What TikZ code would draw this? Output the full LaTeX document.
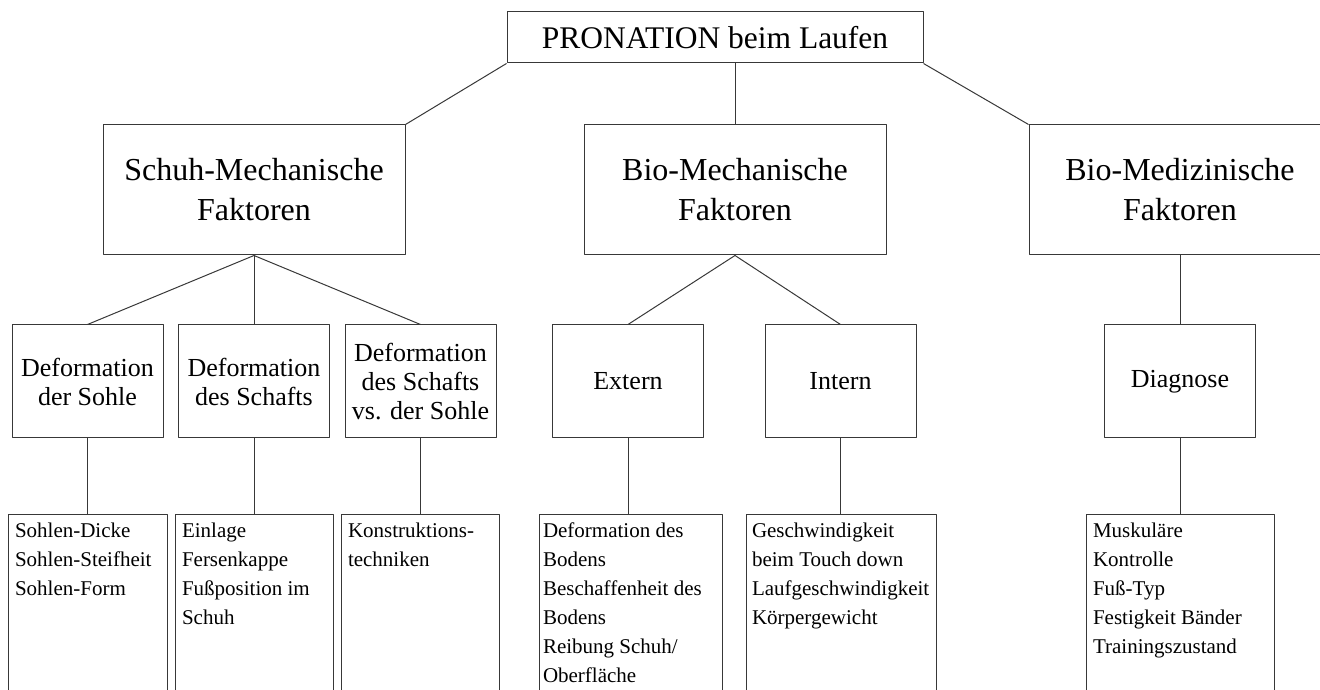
\documentclass[tikz,border=0pt]{standalone}
\usepackage{fontspec}
\setmainfont{Liberation Serif}
\usetikzlibrary{calc}

\begin{document}
\begin{tikzpicture}[line join=bevel,
  every node/.style={draw=black!78,line width=1bp,inner sep=0pt},
  lbox/.style={align=center,font=\fontsize{31.5bp}{40bp}\selectfont},
  mbox/.style={minimum width=151bp,minimum height=113bp,align=center,font=\fontsize{26bp}{29bp}\selectfont},
  listbox/.style={anchor=north,inner xsep=7bp,inner ysep=8bp,font=\fontsize{21bp}{29bp}\selectfont},
  conn/.style={draw=black!78,line width=1bp},
]
\useasboundingbox (0bp,0bp) rectangle (1320bp,690bp);
%%
\node (pron) at (715.0bp,652.5bp) [lbox,minimum width=416bp,minimum height=51bp] {PRONATION beim Laufen};
  \node (schuh_mech) at (254.0bp,500.0bp) [lbox,minimum width=302bp,minimum height=130bp,font=\fontsize{32bp}{40bp}\selectfont] {Schuh-Mechanische\\Faktoren};
  \node (bio_mech) at (735.0bp,500.0bp) [lbox,minimum width=302bp,minimum height=130bp,font=\fontsize{32bp}{40bp}\selectfont] {Bio-Mechanische\\Faktoren};
  \node (bio_med) at (1180.0bp,500.0bp) [lbox,minimum width=302bp,minimum height=130bp,font=\fontsize{32bp}{40bp}\selectfont] {Bio-Medizinische\\Faktoren};
  \node (def_sohle) at (87.5bp,308.5bp) [mbox] {Deformation\\der Sohle};
  \node (def_schaft) at (254.0bp,308.5bp) [mbox] {Deformation\\des Schafts};
  \node (def_schaft_sohle) at (420.5bp,308.5bp) [mbox] {Deformation\\des Schafts\\vs. der Sohle};
  \node (extern) at (628.0bp,308.5bp) [mbox] {Extern};
  \node (intern) at (840.5bp,308.5bp) [mbox] {Intern};
  \node (diagnose) at (1180.0bp,308.5bp) [mbox] {Diagnose};
  \node (list_sohle) at (87.5bp,176.0bp) [listbox] {\parbox[t][190bp][t]{145bp}{Sohlen-Dicke\\Sohlen-Steifheit\\Sohlen-Form}};
  \node (list_schaft) at (254.0bp,176.0bp) [listbox] {\parbox[t][190bp][t]{144bp}{Einlage\\Fersenkappe\\Fußposition im\\Schuh}};
  \node (list_konstr) at (420.0bp,176.0bp) [listbox] {\parbox[t][190bp][t]{144bp}{Konstruktions-\\techniken}};
  \node (list_extern) at (630.5bp,176.0bp) [listbox,inner xsep=4bp] {\parbox[t][190bp][t]{175bp}{Deformation des\\Bodens\\Beschaffenheit des\\Bodens\\Reibung Schuh/\\Oberfläche}};
  \node (list_intern) at (841.0bp,176.0bp) [listbox,inner xsep=6bp] {\parbox[t][190bp][t]{178bp}{Geschwindigkeit\\beim Touch down\\Laufgeschwindigkeit\\Körpergewicht}};
  \node (list_diagnose) at (1180.0bp,176.0bp) [listbox] {\parbox[t][190bp][t]{174bp}{Muskuläre\\Kontrolle\\Fuß-Typ\\Festigkeit Bänder\\Trainingszustand}};
  \draw [conn] (pron.south west) -- (schuh_mech.north east);
  \draw [conn] (bio_mech.north |- pron.south) -- (bio_mech.north);
  \draw [conn] (pron.south east) -- (bio_med.north west);
  \draw [conn] (schuh_mech.south) -- (def_sohle.north);
  \draw [conn] (schuh_mech.south) -- (def_schaft.north);
  \draw [conn] (schuh_mech.south) -- (def_schaft_sohle.north);
  \draw [conn] (bio_mech.south) -- (extern.north);
  \draw [conn] (bio_mech.south) -- (intern.north);
  \draw [conn] (bio_med.south) -- (diagnose.north);
  \draw [conn] (def_sohle.south) -- (def_sohle.south |- list_sohle.north);
  \draw [conn] (def_schaft.south) -- (def_schaft.south |- list_schaft.north);
  \draw [conn] (def_schaft_sohle.south) -- (def_schaft_sohle.south |- list_konstr.north);
  \draw [conn] (extern.south) -- (extern.south |- list_extern.north);
  \draw [conn] (intern.south) -- (intern.south |- list_intern.north);
  \draw [conn] (diagnose.south) -- (diagnose.south |- list_diagnose.north);
%
\end{tikzpicture}
\end{document}
